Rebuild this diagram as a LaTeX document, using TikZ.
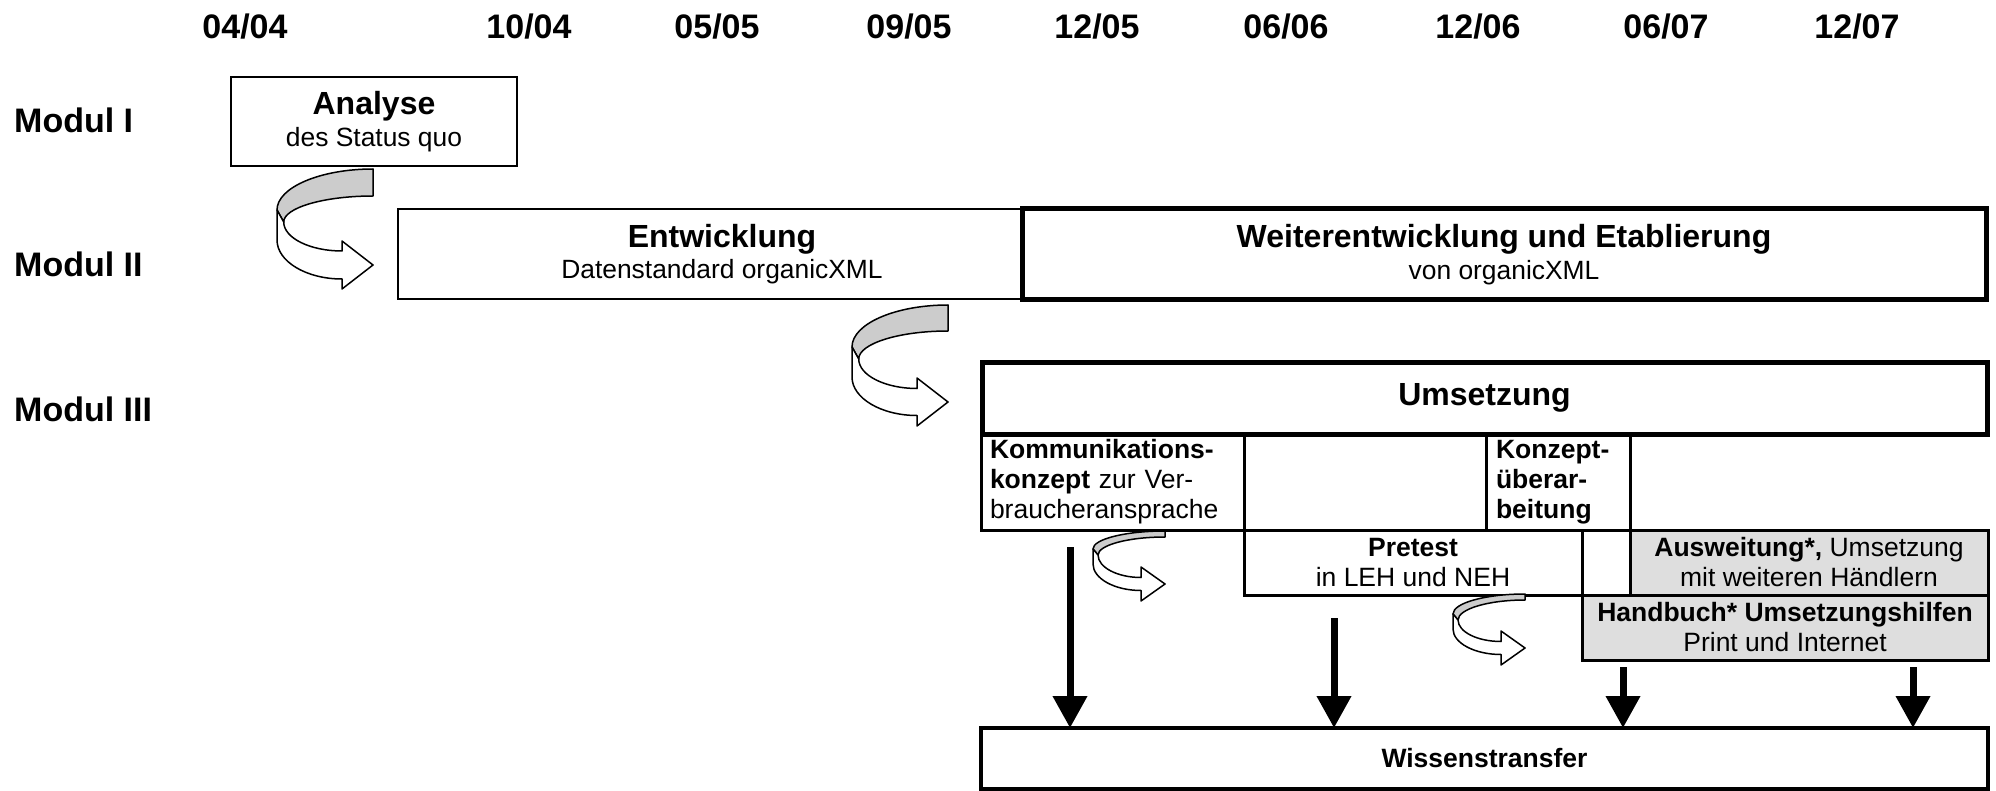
\documentclass[tikz,border=0pt]{standalone}
\usepackage{fontspec}
\setmainfont{Liberation Sans}
\usetikzlibrary{arrows.meta}

\definecolor{ribbongray}{gray}{0.8}
\definecolor{cellgray}{gray}{0.87}

\newcommand{\datefont}{\fontsize{34}{40}\selectfont\bfseries}
\newcommand{\titfont}{\fontsize{32}{38}\selectfont\bfseries}
\newcommand{\subfont}{\fontsize{26.4}{31.7}\selectfont\mdseries}
\newcommand{\cellfont}{\fontsize{26.5}{30}\selectfont\mdseries}

% bent 3D arrow: origin, width, top band, left top, left edge, tip, shaft, head half, head base
\newcommand{\uturn}[9]{%
  \begin{scope}[shift={(#1)}]
    % back side
    \draw[band, fill=ribbongray] (0,0)
      .. controls ({-0.55*#2},0) and ({-#2},{0.45*#4}) .. ({-#2},#4)
      -- ({-0.93*#2},{#4+0.4*#5})
      .. controls ({-0.93*#2},{#4+0.4*#5-0.55*(#4+0.4*#5-#3)}) and ({-0.51*#2},#3) .. (0,#3)
      -- cycle;
    % front side with head
    \draw[band, fill=white] ({-0.93*#2},{#4+0.4*#5})
      .. controls ({-0.93*#2},{#4+0.4*#5+0.55*(#6-0.5*#7-#4-0.4*#5)}) and ({-#9-0.55*(0.93*#2-#9)},{#6-0.5*#7}) .. ({-#9},{#6-0.5*#7})
      -- ({-#9},{#6-#8}) -- (0,#6) -- ({-#9},{#6+#8}) -- ({-#9},{#6+0.5*#7})
      .. controls ({-#9-0.55*(#2-#9)},{#6+0.5*#7}) and ({-#2},{#4+#5+0.55*(#6+0.5*#7-#4-#5)}) .. ({-#2},{#4+#5})
      -- ({-#2},#4) -- cycle;
  \end{scope}}

\begin{document}
\begin{tikzpicture}[x=1pt,y=-1pt]
\tikzstyle{box} = [rectangle, draw, line width=2pt, inner sep=0pt, outer sep=0pt,
anchor=north west, align=center, font=\subfont]
\tikzstyle{bigbox} = [box, line width=5pt, fill=white]
\tikzstyle{cell} = [box, line width=3pt, font=\cellfont]
\tikzstyle{graycell} = [cell, fill=cellgray]
\tikzstyle{label} = [font=\datefont, inner sep=0pt]
\tikzstyle{down} = [draw, line width=7pt, -{Triangle[width=33pt,length=32pt]}]
\tikzstyle{band} = [draw, line width=1.5pt, line join=round]

\useasboundingbox (0,0) rectangle (1996,791);

% dates
\foreach \x/\m/\j [count=\i] in {245/04/04, 529/10/04, 717/05/05, 909/09/05, 1097/12/05,
  1286/06/06, 1478/12/06, 1666/06/07, 1857/12/07}
  \node[label] (d\i) at (\x,27) {\m/\j};

% modules
\node[label, anchor=west] (m1) at (14,120) {Modul I};
\node[label, anchor=west] (m2) at (14,264) {Modul II};
\node[label, anchor=west] (m3) at (14,409) {Modul III};

% row 1
\node[box, minimum width=286pt, minimum height=89pt] (ana) at (231,77)
  {{\titfont Analyse}\\des Status quo};
% row 2
\node[box, minimum width=648pt, minimum height=90pt] (ent) at (398,209)
  {{\titfont Entwicklung}\\Datenstandard organicXML};
\node[bigbox, minimum width=964pt, minimum height=91pt] (wei) at (1022,209)
  {{\titfont Weiterentwicklung und Etablierung}\\von organicXML};
% row 3
\node[cell, minimum width=263pt, minimum height=96pt, text width=245pt, align=left] (kom) at (981,434)
  {\textbf{Kommunikations-}\\\textbf{konzept} zur Ver-\\braucheransprache};
\node[cell, minimum width=144pt, minimum height=96pt, text width=124pt, align=left, font=\cellfont\bfseries] (kon) at (1486,434)
  {Konzept-\\überar-\\beitung};
\node[cell, minimum width=338pt, minimum height=65pt] (pre) at (1244,530)
  {\textbf{Pretest}\\in LEH und NEH};
\node[cell, minimum width=48pt, minimum height=65pt] (gap) at (1582,530) {};
\node[graycell, minimum width=358pt, minimum height=65pt] (aus) at (1630,530)
  {\textbf{Ausweitung*,} Umsetzung\\mit weiteren Händlern};
\node[graycell, minimum width=406pt, minimum height=65pt] (hand) at (1582,595)
  {\textbf{Handbuch* Umsetzungshilfen}\\Print und Internet};
\node[bigbox, minimum width=1005pt, minimum height=71.5pt, font=\titfont] (ums) at (982,362.5) {Umsetzung};
% row 4
\node[cell, line width=3.5pt, minimum width=1007pt, minimum height=61pt, font=\cellfont\bfseries] (wis) at (981,728)
  {Wissenstransfer};

% bent arrows
\coordinate (u1) at (373,169);
\coordinate (u2) at (948,305);
\coordinate (u3) at (1165,531);
\coordinate (u4) at (1525,594);
\uturn{u1}{96}{27}{41}{30}{96}{28}{24}{31}
\uturn{u2}{96}{26}{42}{30}{97}{27}{24}{31}
\uturn{u3}{72}{6}{18}{15}{53}{13}{17}{24}
\uturn{u4}{72}{6}{20}{15}{54}{13}{17}{24}

% transfer arrows
\coordinate (a1) at (1070,547);
\coordinate (a2) at (1334,618);
\coordinate (a3) at (1623,667);
\coordinate (a4) at (1913,667);
\foreach \a in {a1,a2,a3,a4}
  \path[down] (\a) -- (\a |- wis.north);

\end{tikzpicture}
\end{document}
